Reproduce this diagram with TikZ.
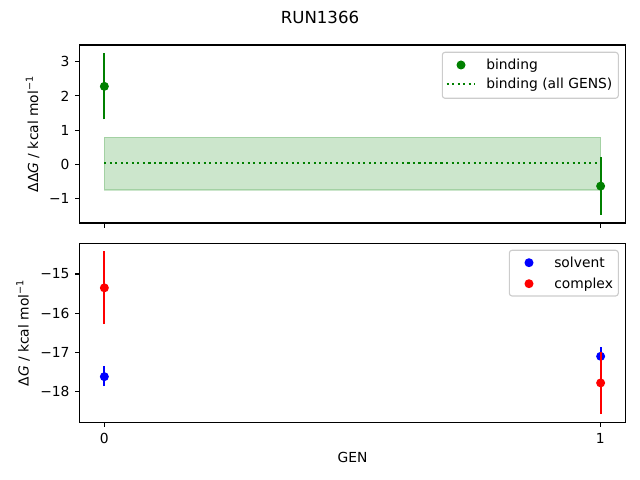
\documentclass[tikz,border=0pt]{standalone}
\usepackage{fontspec}
\setmainfont{DejaVu Sans}
\definecolor{mplgreen}{RGB}{0,128,0}
\definecolor{mplblue}{RGB}{0,0,255}
\definecolor{mplred}{RGB}{255,0,0}
\tikzset{
  errbar/.style={line width=1.5pt},
  ptdot/.style={radius=0.045in},
  axframe/.style={line width=0.8pt},
  axtick/.style={line width=0.8pt},
  ticklab/.style={inner sep=0pt,font=\fontsize{10}{12}\selectfont},
  legbox/.style={draw=black!20,fill=white,fill opacity=0.8,rounded corners=2pt,line width=0.8pt},
  legtext/.style={inner sep=0pt,anchor=base west,font=\fontsize{10}{12}\selectfont}
}
\begin{document}
\begin{tikzpicture}[x=0.01in,y=-0.01in]
\useasboundingbox (0,0) rectangle (640,480);
% Title
\node[font=\fontsize{12}{14}\selectfont] (title) at (320,17) {RUN1366};

% Top panel: binding free energy
\begin{scope}[shift={(1.043in,-1.644in)},x=4.96in,y=0.3425in]
\filldraw[fill=mplgreen,draw=mplgreen,opacity=0.2,line width=1pt] (0,-0.74) rectangle (1,0.79);
\draw[mplgreen,line width=1.5pt,dash pattern=on 1.5pt off 2.48pt] (0,0.03) -- (1,0.03);
\draw[mplgreen,errbar] (0,1.32) -- (0,3.24);
\fill[mplgreen] (0,2.28) circle[ptdot];
\draw[mplgreen,errbar] (1,-1.46) -- (1,0.22);
\fill[mplgreen] (1,-0.63) circle[ptdot];
\end{scope}
\draw[axframe] (79.5,45) rectangle (625.5,223);
% Ticks of the top panel
\foreach \v/\lab in {3/3,2/2,1/1,0/0,-1/−1}{
  \draw[axtick] (79.5,{164.4-34.25*\v}) -- ++(-4.86,0);
  \node[ticklab,anchor=east] (ytop\v) at (69.8,{164.4-34.25*\v}) {\lab};
}
\foreach \g in {0,1}
  \draw[axtick] ({104.3+496*\g},223) -- ++(0,4.86);
\node[rotate=90,anchor=base,font=\fontsize{10}{12}\selectfont] (ylabtop) at (38,134)
  {ΔΔ\textit{G} / kcal mol\textsuperscript{−1}};
% Legend of the top panel
\draw[legbox] (442.3,52.3) rectangle (618.3,98.3);
\fill[mplgreen] (461,65) circle[ptdot];
\node[legtext] (legbind) at (486,69.5) {binding};
\draw[mplgreen,line width=1.5pt,dash pattern=on 1.5pt off 2.48pt] (446.7,83.7) -- (474.3,83.7);
\node[legtext] (legall) at (486,88.2) {binding (all GENS)};

% Bottom panel: solvent and complex
\begin{scope}[shift={(1.043in,3.125in)},x=4.96in,y=0.391in]
\draw[mplblue,errbar] (0,-17.86) -- (0,-17.36);
\fill[mplblue] (0,-17.62) circle[ptdot];
\draw[mplblue,errbar] (1,-17.33) -- (1,-16.87);
\fill[mplblue] (1,-17.10) circle[ptdot];
\draw[mplred,errbar] (0,-16.28) -- (0,-14.41);
\fill[mplred] (0,-15.35) circle[ptdot];
\draw[mplred,errbar] (1,-18.58) -- (1,-16.98);
\fill[mplred] (1,-17.78) circle[ptdot];
\end{scope}
\draw[axframe] (79.5,243.5) rectangle (625.5,422.5);
% Ticks of the bottom panel
\foreach \v/\lab in {-15/−15,-16/−16,-17/−17,-18/−18}{
  \draw[axtick] (79.5,{274-39.1*(\v+15)}) -- ++(-4.86,0);
  \node[ticklab,anchor=east] (ybot\v) at (69.8,{274-39.1*(\v+15)}) {\lab};
}
\foreach \g in {0,1}{
  \draw[axtick] ({104.3+496*\g},422.5) -- ++(0,4.86);
  \node[ticklab] (xbot\g) at ({104.3+496*\g},438) {\g};
}
\node[rotate=90,anchor=base,font=\fontsize{10}{12}\selectfont] (ylabbot) at (28.5,333)
  {Δ\textit{G} / kcal mol\textsuperscript{−1}};
\node[font=\fontsize{10}{12}\selectfont] (xlab) at (352.5,457) {GEN};
% Legend of the bottom panel
\draw[legbox] (509.3,250.3) rectangle (618.3,296);
\fill[mplblue] (529,262.7) circle[ptdot];
\node[legtext] (legsolv) at (554,267.2) {solvent};
\fill[mplred] (529,283.7) circle[ptdot];
\node[legtext] (legcplx) at (554,288.2) {complex};
\end{tikzpicture}
\end{document}
